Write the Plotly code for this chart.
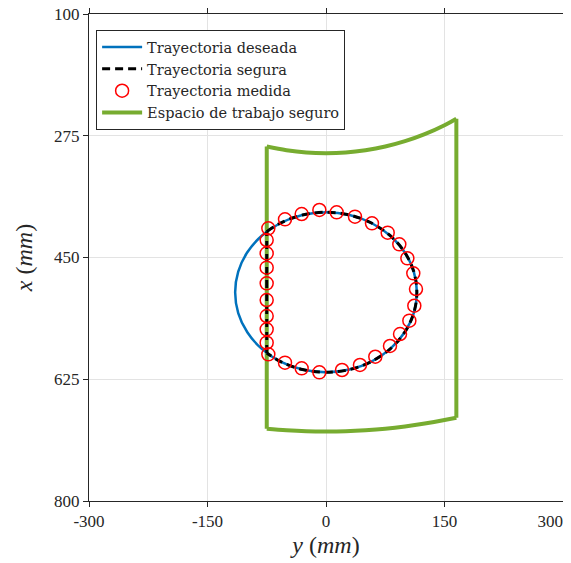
import plotly.graph_objects as go

FONT = "Times New Roman, Liberation Serif, serif"
LEG_FONT = "DejaVu Serif, serif"

# Desired trajectory (circle), y (mm) horizontal, x (mm) vertical
desired_y = [0, 29.8, 57.5, 81.3, 99.6, 111.1, 115, 111.1, 99.6, 81.3, 57.5, 29.8, 0,
             -29.8, -57.5, -81.3, -99.6, -111.1, -115, -111.1, -99.6, -81.3, -57.5, -29.8, 0]
desired_x = [385, 388.9, 400.4, 418.7, 442.5, 470.2, 500, 529.8, 557.5, 581.3, 599.6, 611.1, 615,
             611.1, 599.6, 581.3, 557.5, 529.8, 500, 470.2, 442.5, 418.7, 400.4, 388.9, 385]

# Safe trajectory: arc part and wall part
safe_arc_y = [-75, -57.5, -29.8, 0, 29.8, 57.5, 81.3, 99.6, 111.1, 115, 111.1, 99.6, 81.3, 57.5, 29.8, 0,
              -29.8, -57.5, -75]
safe_arc_x = [412.8, 400.4, 388.9, 385, 388.9, 400.4, 418.7, 442.5, 470.2, 500, 529.8, 557.5, 581.3,
              599.6, 611.1, 615, 611.1, 599.6, 587.2]
safe_wall_y = [-75, -75]
safe_wall_x = [587.2, 412.8]

# Measured trajectory
meas_y = [-73.0, -51.9, -30.8, -8.4, 13.5, 36.7, 58.2, 78.1, 92.8, 103.0, 110.5, 113.9, 111.8,
          105.5, 93.7, 81.0, 62.4, 43.0, 20.3, -8.4, -30.8, -51.9, -73.0,
          -75.1, -75.1, -75.1, -75.1, -75.1, -75.1, -75.1, -75.1]
meas_x = [408.1, 395.2, 387.5, 381.7, 385.1, 391.3, 400.9, 414.3, 431.1, 451.2, 472.8, 495.3, 519.3,
          540.8, 560.0, 577.2, 592.6, 604.5, 611.7, 615.1, 609.3, 601.2, 589.2,
          572.4, 553.3, 534.1, 511.1, 487.1, 464.6, 444.0, 424.9]

# Safe workspace boundary: inner arc, outer arc and side walls
ws_top_y = [-75, -50, -25, 0, 25, 50, 75, 100, 125, 150, 165]
ws_top_x = [290.5, 295.8, 299.0, 300, 299.0, 295.8, 290.5, 282.8, 272.7, 259.8, 250.5]
ws_bot_y = [165, 150, 125, 100, 75, 50, 25, 0, -25, -50, -75]
ws_bot_x = [680.3, 683.7, 688.7, 692.8, 696.0, 698.2, 699.6, 700, 699.6, 698.2, 696.0]
ws_right_y = [165, 165]
ws_right_x = [250.5, 680.3]
ws_left_y = [-75, -75]
ws_left_x = [696.0, 290.5]

x_ticks = [-300, -150, 0, 150, 300]
x_tick_text = ["-300", "-150", "0", "150", "300" + "\u00a0" * 6]
y_ticks = [100, 275, 450, 625, 800]
y_tick_text = ["100", "275", "450", "625", "800"]

GREEN = "#77AC30"
fig = go.Figure()
ws_line = dict(color=GREEN, width=4)
fig.add_trace(go.Scatter(x=ws_top_y, y=ws_top_x, mode="lines", name="Espacio de trabajo seguro",
                         line=dict(ws_line, shape="spline"), legendgroup="ws", legendrank=4))
fig.add_trace(go.Scatter(x=ws_right_y, y=ws_right_x, mode="lines", line=ws_line,
                         legendgroup="ws", showlegend=False))
fig.add_trace(go.Scatter(x=ws_bot_y, y=ws_bot_x, mode="lines", line=dict(ws_line, shape="spline"),
                         legendgroup="ws", showlegend=False))
fig.add_trace(go.Scatter(x=ws_left_y, y=ws_left_x, mode="lines", line=ws_line,
                         legendgroup="ws", showlegend=False))

fig.add_trace(go.Scatter(x=desired_y, y=desired_x, mode="lines", name="Trayectoria deseada",
                         line=dict(color="#0072BD", width=2.5, shape="spline"), legendrank=1))
dash = "8px,5px"
fig.add_trace(go.Scatter(x=safe_arc_y, y=safe_arc_x, mode="lines", name="Trayectoria segura",
                         line=dict(color="black", width=3, dash=dash, shape="spline"),
                         legendgroup="safe", legendrank=2))
fig.add_trace(go.Scatter(x=safe_wall_y, y=safe_wall_x, mode="lines",
                         line=dict(color="black", width=3, dash=dash),
                         legendgroup="safe", showlegend=False))
fig.add_trace(go.Scatter(x=meas_y, y=meas_x, mode="markers", name="Trayectoria medida",
                         marker=dict(symbol="circle-open", size=13, color="#FF0000",
                                     line=dict(width=1.5, color="#FF0000")), legendrank=3))

axis_common = dict(showgrid=True, gridcolor="#e3e3e3", gridwidth=1, zeroline=False,
                   showline=True, linecolor="#262626", linewidth=1, mirror="allticks",
                   ticks="outside", ticklen=5, tickcolor="#262626", automargin=False,
                   ticklabeloverflow="allow",
                   tickfont=dict(family=FONT, size=17, color="#262626"))

# The page places the figure 8px from the window's top-left corner.
fig.update_layout(
    width=563, height=555,
    margin=dict(l=81, r=8, t=6, b=62),
    plot_bgcolor="white", paper_bgcolor="white",
    font=dict(family=FONT, color="#262626"),
    showlegend=True,
    legend=dict(x=0.015, y=0.967, xanchor="left", yanchor="top",
                bgcolor="white", bordercolor="#262626", borderwidth=1,
                font=dict(family=LEG_FONT, size=14.5, color="#262626"),
                tracegroupgap=0, itemwidth=40),
    xaxis=dict(range=[-300, 300], tickvals=x_ticks, ticktext=x_tick_text,
               title=dict(text="<i>y</i> (<i>mm</i>)", font=dict(family=FONT, size=24),
                          standoff=5),
               **axis_common),
    yaxis=dict(range=[800, 100], tickvals=y_ticks, ticktext=y_tick_text,
               title=dict(text="<i>x</i> (<i>mm</i>)", font=dict(family=FONT, size=24),
                          standoff=14),
               **axis_common),
)

fig.write_html("out.html")
